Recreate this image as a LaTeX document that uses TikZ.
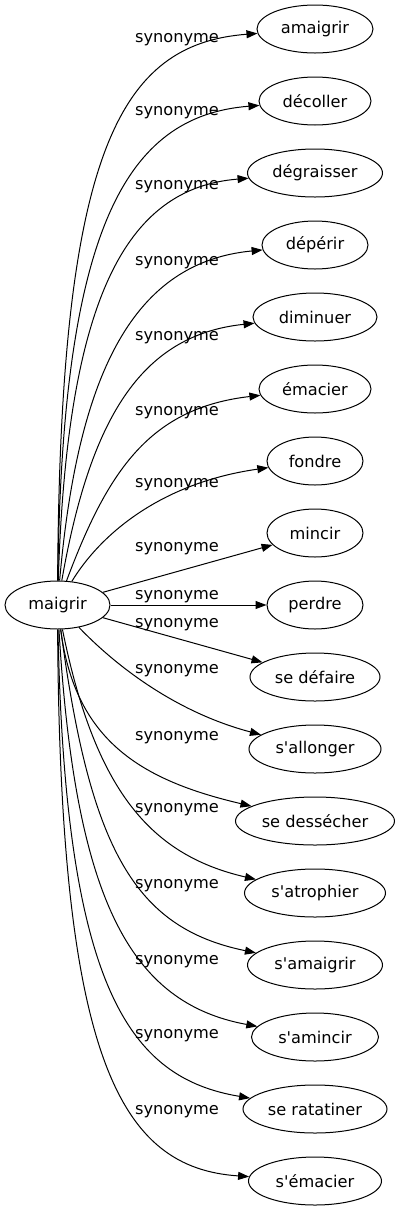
\documentclass[tikz,border=0pt]{standalone}
\usepackage{fontspec}
\newfontfamily\dv{DejaVu Sans}
\usetikzlibrary{arrows.meta,shapes.geometric}
\begin{document}
\begin{tikzpicture}[x=1pt,y=-1pt,
  every node/.style={font=\dv\fontsize{16.2}{19}\selectfont},
  word/.style={draw, ellipse, line width=1pt, inner sep=0pt, minimum height=48pt},
  lbl/.style={inner sep=0pt},
  syn/.style={draw, line width=1pt, -{Triangle[length=11pt,width=8pt]}}]
\useasboundingbox (0,0) rectangle (400,1211);
% central node
\node[word, minimum width=105pt] (maigrir) at (57.5,605) {maigrir};
% targets
\node[word, minimum width=116pt] (t0) at (315,29) {amaigrir};
\node[word, minimum width=112pt] (t1) at (315,101) {décoller};
\node[word, minimum width=135pt] (t2) at (315,173) {dégraisser};
\node[word, minimum width=106pt] (t3) at (315,245) {dépérir};
\node[word, minimum width=124pt] (t4) at (315,317) {diminuer};
\node[word, minimum width=112pt] (t5) at (315,389) {émacier};
\node[word, minimum width=96pt] (t6) at (315,461) {fondre};
\node[word, minimum width=96pt] (t7) at (315,533) {mincir};
\node[word, minimum width=96pt] (t8) at (315,605) {perdre};
\node[word, minimum width=130pt] (t9) at (315,677) {se défaire};
\node[word, minimum width=132pt] (t10) at (315,749) {s'allonger};
\node[word, minimum width=159pt] (t11) at (315,821) {se dessécher};
\node[word, minimum width=141pt] (t12) at (315,893) {s'atrophier};
\node[word, minimum width=135pt] (t13) at (315,965) {s'amaigrir};
\node[word, minimum width=127pt] (t14) at (315,1037) {s'amincir};
\node[word, minimum width=144pt] (t15) at (315,1109) {se ratatiner};
\node[word, minimum width=133pt] (t16) at (315,1181) {s'émacier};
% labels
\node[lbl] (l0) at (177,40) {synonyme};
\node[lbl] (l1) at (177,113) {synonyme};
\node[lbl] (l2) at (177,187) {synonyme};
\node[lbl] (l3) at (177,263) {synonyme};
\node[lbl] (l4) at (177,338) {synonyme};
\node[lbl] (l5) at (177,413) {synonyme};
\node[lbl] (l6) at (177,485) {synonyme};
\node[lbl] (l7) at (177,549) {synonyme};
\node[lbl] (l8) at (177,597) {synonyme};
\node[lbl] (l9) at (177,625) {synonyme};
\node[lbl] (l10) at (177,671) {synonyme};
\node[lbl] (l11) at (177,738) {synonyme};
\node[lbl] (l12) at (177,810) {synonyme};
\node[lbl] (l13) at (177,886) {synonyme};
\node[lbl] (l14) at (177,962) {synonyme};
\node[lbl] (l15) at (177,1036) {synonyme};
\node[lbl] (l16) at (177,1112) {synonyme};
% edges, upper
\path[syn] (maigrir) .. controls (60,150) and (120,44) .. (t0);
\path[syn] (maigrir) .. controls (62,230) and (125,116) .. (t1);
\path[syn] (maigrir) .. controls (67,300) and (125,188) .. (t2);
\path[syn] (maigrir) .. controls (78,370) and (135,262) .. (t3);
\path[syn] (maigrir) .. controls (90,420) and (140,335) .. (t4);
\path[syn] (maigrir) .. controls (108,470) and (150,408) .. (t5);
\path[syn] (maigrir) .. controls (100,535) and (160,483) .. (t6);
\path[syn] (maigrir) -- (t7);
\path[syn] (maigrir) -- (t8);
\path[syn] (maigrir) -- (t9);
% edges, lower
\path[syn] (maigrir) .. controls (115,665) and (175,712) .. (t10);
\path[syn] (maigrir) .. controls (75,740) and (140,780) .. (t11);
\path[syn] (maigrir) .. controls (95,790) and (150,855) .. (t12);
\path[syn] (maigrir) .. controls (90,850) and (135,928) .. (t13);
\path[syn] (maigrir) .. controls (75,900) and (130,1003) .. (t14);
\path[syn] (maigrir) .. controls (65,990) and (130,1078) .. (t15);
\path[syn] (maigrir) .. controls (60,1060) and (120,1168) .. (t16);
\end{tikzpicture}
\end{document}
